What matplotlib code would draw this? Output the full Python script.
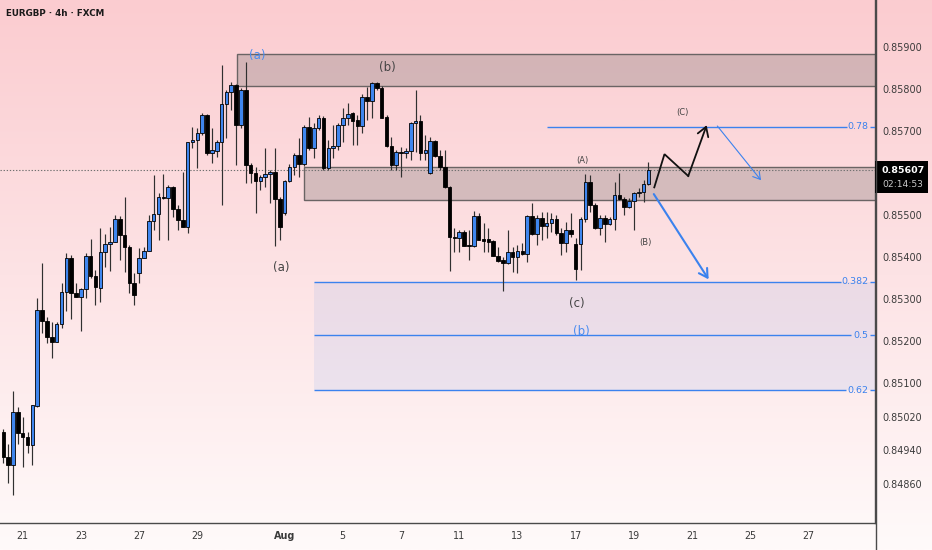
import matplotlib
matplotlib.use("Agg")
import matplotlib.pyplot as plt
import matplotlib.transforms as mtransforms
from matplotlib.lines import Line2D
from matplotlib.patches import Rectangle
import numpy as np

# EURGBP 4h candles, prices in 1e-5 (pipettes)
opens = [84983, 84924, 84905, 85031, 84981, 84971, 84952, 85045, 85274, 85248,
         85210, 85198, 85241, 85317, 85398, 85314, 85305, 85324, 85402, 85355,
         85326, 85412, 85431, 85436, 85491, 85452, 85424, 85338, 85362, 85398,
         85414, 85486, 85502, 85543, 85541, 85567, 85514, 85488, 85471, 85674,
         85679, 85695, 85738, 85648, 85652, 85674, 85764, 85793, 85810, 85714,
         85798, 85619, 85600, 85581, 85591, 85598, 85602, 85538, 85505, 85581,
         85614, 85643, 85621, 85710, 85660, 85707, 85731, 85612, 85660, 85664,
         85714, 85731, 85743, 85726, 85712, 85781, 85771, 85814, 85802, 85733,
         85664, 85619, 85650, 85648, 85652, 85719, 85724, 85648, 85600, 85676,
         85640, 85614, 85567, 85448, 85445, 85460, 85429, 85426, 85498, 85443,
         85443, 85438, 85402, 85393, 85386, 85412, 85400, 85414, 85407, 85498,
         85455, 85493, 85474, 85481, 85491, 85457, 85433, 85464, 85431, 85431,
         85491, 85579, 85524, 85469, 85493, 85479, 85491, 85548, 85538, 85519,
         85533, 85552, 85555, 85574]
highs = [84991, 84955, 85081, 85043, 85019, 84983, 85048, 85302, 85386, 85257,
         85245, 85245, 85338, 85410, 85405, 85338, 85326, 85410, 85443, 85369,
         85469, 85455, 85471, 85500, 85498, 85543, 85429, 85362, 85421, 85424,
         85500, 85595, 85552, 85598, 85571, 85569, 85524, 85602, 85674, 85710,
         85707, 85743, 85740, 85707, 85679, 85857, 85798, 85817, 85812, 85802,
         85864, 85624, 85614, 85595, 85660, 85607, 85660, 85543, 85583, 85621,
         85648, 85683, 85714, 85733, 85719, 85738, 85736, 85679, 85714, 85719,
         85755, 85767, 85745, 85738, 85788, 85805, 85817, 85817, 85807, 85738,
         85686, 85655, 85662, 85660, 85721, 85798, 85738, 85690, 85686, 85679,
         85655, 85655, 85569, 85469, 85464, 85464, 85464, 85510, 85505, 85481,
         85469, 85441, 85424, 85400, 85464, 85424, 85429, 85433, 85500, 85529,
         85500, 85507, 85507, 85505, 85500, 85469, 85483, 85505, 85445, 85495,
         85598, 85595, 85529, 85500, 85500, 85495, 85579, 85600, 85543, 85541,
         85555, 85564, 85583, 85626]
lows = [84910, 84862, 84833, 84955, 84900, 84933, 84905, 85043, 85219, 85195,
        85160, 85198, 85231, 85271, 85252, 85305, 85224, 85302, 85350, 85286,
        85293, 85376, 85367, 85436, 85393, 85364, 85314, 85286, 85338, 85398,
        85414, 85464, 85441, 85538, 85441, 85495, 85464, 85471, 85457, 85660,
        85612, 85690, 85643, 85624, 85638, 85524, 85683, 85750, 85619, 85707,
        85576, 85576, 85505, 85560, 85567, 85529, 85426, 85441, 85500, 85579,
        85595, 85591, 85617, 85655, 85636, 85702, 85607, 85607, 85636, 85655,
        85674, 85714, 85667, 85667, 85695, 85726, 85731, 85798, 85731, 85662,
        85607, 85607, 85591, 85636, 85631, 85650, 85631, 85631, 85598, 85638,
        85607, 85564, 85367, 85412, 85412, 85426, 85393, 85424, 85441, 85412,
        85412, 85402, 85388, 85319, 85383, 85364, 85362, 85405, 85388, 85452,
        85429, 85441, 85445, 85460, 85452, 85405, 85412, 85448, 85345, 85369,
        85483, 85507, 85467, 85452, 85436, 85476, 85464, 85536, 85500, 85517,
        85464, 85543, 85531, 85571]
closes = [84924, 84905, 85031, 84981, 84971, 84952, 85048, 85274, 85248, 85210,
          85198, 85241, 85317, 85398, 85314, 85305, 85324, 85402, 85355, 85329,
          85412, 85431, 85436, 85491, 85452, 85424, 85338, 85310, 85398, 85414,
          85486, 85502, 85543, 85541, 85567, 85514, 85488, 85471, 85674, 85679,
          85695, 85738, 85648, 85655, 85674, 85764, 85793, 85810, 85714, 85798,
          85619, 85600, 85581, 85591, 85598, 85602, 85538, 85471, 85581, 85614,
          85643, 85621, 85710, 85660, 85707, 85731, 85612, 85660, 85664, 85714,
          85731, 85740, 85724, 85712, 85781, 85771, 85814, 85802, 85731, 85664,
          85619, 85650, 85648, 85652, 85719, 85724, 85648, 85655, 85676, 85640,
          85614, 85567, 85448, 85445, 85460, 85426, 85426, 85498, 85441, 85438,
          85436, 85402, 85390, 85386, 85412, 85400, 85414, 85407, 85498, 85455,
          85493, 85474, 85481, 85491, 85457, 85433, 85464, 85455, 85371, 85491,
          85579, 85524, 85469, 85493, 85479, 85491, 85548, 85538, 85519, 85533,
          85552, 85555, 85574, 85607]

date_labels = ["21", "23", "27", "29", "Aug", "5", "7", "11", "13", "17", "19", "21", "25", "27"]
date_bars = [4, 16, 28, 40, 58, 70, 82, 94, 106, 118, 130, 142, 154, 166]

price_ticks = [0.859, 0.858, 0.857, 0.855, 0.854, 0.853, 0.852, 0.851, 0.8502, 0.8494, 0.8486]

# zones (price top, price bottom, first bar)
supply_zone = (0.85883, 0.85808, 48.2)
mid_zone = (0.85615, 0.85537, 62.0)

fib_levels = [0.78, 0.382, 0.5, 0.62]
fib_prices = [0.85710, 0.85341, 0.85214, 0.85083]

last_time = "02:14:53"

BLUE = "#3f86ee"
FIB = "#3b82ee"
TXT = "#3a3a3a"
WAVE = "#444444"

o = np.array(opens) / 1e5
h = np.array(highs) / 1e5
l = np.array(lows) / 1e5
c = np.array(closes) / 1e5
idx = np.arange(len(o))
up = c >= o
last = c[-1]

fig = plt.figure(figsize=(9.32, 5.5), dpi=100)

# pink gradient background over the whole picture
bg = fig.add_axes([0, 0, 1, 1], zorder=-10)
top = np.array([251, 204, 208]) / 255
bot = np.array([255, 250, 250]) / 255
t = np.linspace(0, 1, 256)[:, None]
grad = (top * (1 - t) + bot * t)[:, None, :]
bg.imshow(grad, aspect="auto", extent=[0, 1, 0, 1])
bg.axis("off")

ax = fig.add_axes([0, 27 / 550, 875 / 932, 523 / 550])
ax.set_facecolor("none")
XMAX = 179.7
ax.set_xlim(-0.68, XMAX)
ax.set_ylim(0.84767, 0.86012)

# zones
for ztop, zbot, zx in (supply_zone, mid_zone):
    ax.add_patch(Rectangle((zx, zbot), XMAX + 5 - zx, ztop - zbot,
                           facecolor=(0.58, 0.53, 0.53, 0.38), edgecolor="#6a6464",
                           linewidth=1.0, zorder=2, clip_on=True))

# fib retracement
fib_start = [112.1, 64.06, 64.06, 64.06]
fib_end = [173.9, 172.6, 174.8, 173.8]
ax.fill_between([64.06, XMAX + 2], fib_prices[3], fib_prices[1], color=FIB, alpha=0.09,
                linewidth=0, zorder=1.5)
for lvl, p, xs, xe in zip(fib_levels, fib_prices, fib_start, fib_end):
    ax.hlines(p, xs, xe, color=FIB, linewidth=1.0, zorder=3)
    ax.hlines(p, 178.7, XMAX + 1, color=FIB, linewidth=1.0, zorder=3)
    ax.text(178.3, p, f"{lvl:g}", color=FIB, fontsize=6.8, ha="right", va="center", zorder=3)

# current price line
ax.axhline(last, color="#707070", linewidth=0.8, linestyle=(0, (1.2, 1.6)), zorder=2.5)

# candles
ax.vlines(idx, l, h, color="#303030", linewidth=0.85, zorder=4)
body_lo = np.minimum(o, c)
body_h = np.maximum(np.abs(c - o), 0.000025)
ax.bar(idx, body_h, bottom=body_lo, width=0.74, color=np.where(up, BLUE, "#000000"),
       edgecolor="#000000", linewidth=0.6, zorder=5)

# wave labels
ax.text(52.3, 0.85881, "(a)", color="#4a8cf0", fontsize=8.5, ha="center", va="center", zorder=6)
ax.text(79.1, 0.85852, "(b)", color=WAVE, fontsize=8.5, ha="center", va="center", zorder=6)
ax.text(57.3, 0.85376, "(a)", color=WAVE, fontsize=8.5, ha="center", va="center", zorder=6)
ax.text(118.3, 0.85290, "(c)", color=WAVE, fontsize=8.5, ha="center", va="center", zorder=6)
ax.text(119.1, 0.85224, "(b)", color="#4a8cf0", fontsize=8.5, ha="center", va="center", zorder=6)
ax.text(119.3, 0.85629, "(A)", color=WAVE, fontsize=6, ha="center", va="center", zorder=6)
ax.text(132.3, 0.85434, "(B)", color=WAVE, fontsize=6, ha="center", va="center", zorder=6)
ax.text(140.1, 0.85745, "(C)", color=WAVE, fontsize=6, ha="center", va="center", zorder=6)

# projected paths
ax.plot([134.2, 136.3, 141.2], [0.85566, 0.85645, 0.85593], color="#111111", linewidth=1.3,
        solid_joinstyle="miter", zorder=6)
ax.annotate("", xy=(145.0, 0.85714), xytext=(141.2, 0.85593),
            arrowprops=dict(arrowstyle="->,head_length=0.65,head_width=0.4", color="#111111",
                            lw=1.3, shrinkA=0, shrinkB=0), zorder=6)
ax.annotate("", xy=(145.4, 0.85347), xytext=(134.1, 0.85550),
            arrowprops=dict(arrowstyle="->,head_length=0.6,head_width=0.35", color=FIB,
                            lw=1.5, shrinkA=0, shrinkB=0), zorder=6)
ax.annotate("", xy=(156.2, 0.85583), xytext=(147.2, 0.85712),
            arrowprops=dict(arrowstyle="->,head_length=0.5,head_width=0.3", color=FIB,
                            lw=0.8, shrinkA=0, shrinkB=0), zorder=6)

# axes styling
for s in ("top", "left"):
    ax.spines[s].set_visible(False)
for s in ("right", "bottom"):
    ax.spines[s].set_color("#4a4a4a")
    ax.spines[s].set_linewidth(1.0)
fig.add_artist(Line2D([875.5 / 932] * 2, [0, 1], color="#4a4a4a", linewidth=1.0))

ax.yaxis.tick_right()
ax.set_yticks(price_ticks)
ax.set_yticklabels([f"{p:.5f}" for p in price_ticks])
ax.tick_params(axis="y", length=0, pad=5.5, labelsize=6.9, labelcolor=TXT)
ax.set_xticks(date_bars)
ax.set_xticklabels(date_labels)
ax.tick_params(axis="x", length=0, pad=6.0, labelsize=6.9, labelcolor=TXT)
for lab in ax.get_xticklabels():
    if lab.get_text() == "Aug":
        lab.set_fontweight("bold")

# last price tag
tr = mtransforms.blended_transform_factory(ax.transAxes, ax.transData)
ax.add_patch(Rectangle((1.0, last - 0.00055), 53 / 875, 0.00077, transform=tr,
                       facecolor="#000000", edgecolor="none", clip_on=False, zorder=7))
ax.text(1 + 7 / 875, last - 0.00002, f"{last:.5f}", transform=tr, color="white",
        fontsize=6.8, fontweight="bold", ha="left", va="center", zorder=8, clip_on=False)
ax.text(1 + 7 / 875, last - 0.00035, last_time, transform=tr, color="#c9c9c9",
        fontsize=6.6, ha="left", va="center", zorder=8, clip_on=False)

fig.text(6 / 932, 1 - 14 / 550, "EURGBP · 4h · FXCM", fontsize=6.3, color="#1a1a1a",
         fontweight="bold", ha="left", va="center")

fig.savefig("out.png", dpi=100)
